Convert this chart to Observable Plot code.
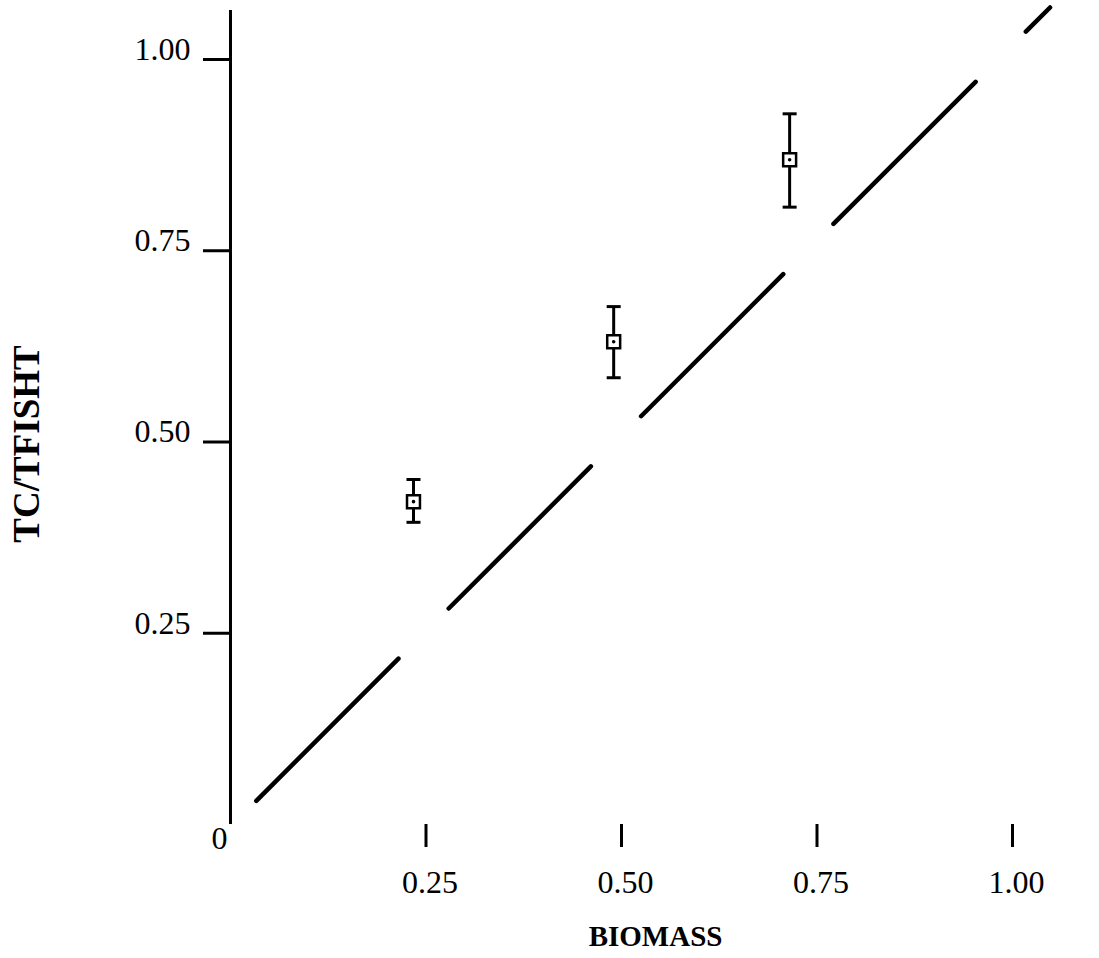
<!DOCTYPE html>
<html><head><meta charset="utf-8">
<script src="https://cdn.jsdelivr.net/npm/d3@7"></script>
<script src="https://cdn.jsdelivr.net/npm/@observablehq/plot@0.6"></script>
<style>body{margin:0;background:#fff}</style>
</head><body><div id="chart"></div>
<script>
// ---- data ----
const xTicks = [0.25, 0.50, 0.75, 1.00];
const yTicks = [0.25, 0.50, 0.75, 1.00];
const biomass = [0.234, 0.490, 0.715];
const ratio   = [0.422, 0.631, 0.869];
const errLow  = [0.395, 0.584, 0.807];
const errHigh = [0.451, 0.677, 0.929];
const refX = [0.033, 1.048];
const refY = [0.031, 1.068];
const axisTop = 1.064;
const xTitle = "BIOMASS";
const yTitle = "TC/TFISHT";

const pts = biomass.map((x, i) => ({x, y: ratio[i], lo: errLow[i], hi: errHigh[i]}));
const ref = refX.map((x, i) => ({x, y: refY[i]}));

const capSymbol = {draw(ctx, size) { const h = Math.sqrt(size / Math.PI); ctx.moveTo(-h, 0); ctx.lineTo(h, 0); }};
const fmt = d3.format(".2f");
const F = '"Liberation Serif", "Times New Roman", serif';

const chart = Plot.plot({
  width: 1099, height: 958,
  marginLeft: 230, marginRight: 87, marginTop: 59, marginBottom: 134,
  x: {domain: [0, 1]},
  y: {domain: [0, 1]},
  style: {background: "#fff", color: "#000", fontFamily: F},
  marks: [
    // y axis line
    Plot.ruleX([0], {y1: 0, y2: axisTop, stroke: "#000", strokeWidth: 3}),
    // y ticks and labels
    Plot.axisY({ticks: yTicks, tickSize: 27, fill: "none", stroke: "#000", strokeWidth: 3, label: null}),
    Plot.axisY({ticks: yTicks, tickSize: 0, tickPadding: 40, dy: -10, tickFormat: fmt, fontSize: 32, fill: "#000", label: null}),
    // x ticks and labels
    Plot.axisX({ticks: xTicks, tickSize: 23, fill: "none", stroke: "#000", strokeWidth: 3, label: null}),
    Plot.axisX({ticks: xTicks, tickSize: 0, tickPadding: 46, dx: 4, tickFormat: fmt, fontSize: 32, fill: "#000", label: null}),
    // origin label
    Plot.text(["0"], {x: 0, y: 0, text: d => d, dx: -11, dy: 14, fontSize: 32, fill: "#000"}),
    // reference (1:1) line
    Plot.line(ref, {x: "x", y: "y", stroke: "#000", strokeWidth: 4.5, strokeDasharray: "201,71", strokeLinecap: "round"}),
    // error bars
    Plot.ruleX(pts, {x: "x", y1: "lo", y2: "hi", stroke: "#000", strokeWidth: 3}),
    Plot.dot(pts, {x: "x", y: "lo", symbol: capSymbol, r: 7, fill: "none", stroke: "#000", strokeWidth: 3}),
    Plot.dot(pts, {x: "x", y: "hi", symbol: capSymbol, r: 7, fill: "none", stroke: "#000", strokeWidth: 3}),
    // markers
    Plot.dot(pts, {x: "x", y: "y", symbol: "square", r: 7.3, fill: "#fff", stroke: "#000", strokeWidth: 2.5}),
    Plot.dot(pts, {x: "x", y: "y", r: 1.8, fill: "#000", stroke: "none"}),
    // axis titles
    Plot.text([yTitle], {frameAnchor: "left", textAnchor: "middle", lineAnchor: "middle", text: d => d, dx: -203, dy: 2, rotate: -90, fontSize: 37, fontWeight: "bold", fill: "#000"}),
    Plot.text([xTitle], {frameAnchor: "bottom", textAnchor: "middle", lineAnchor: "middle", text: d => d, dx: 34, dy: 112, fontSize: 29, fontWeight: "bold", fill: "#000"})
  ]
});
document.getElementById("chart").appendChild(chart);
</script>
</body></html>
